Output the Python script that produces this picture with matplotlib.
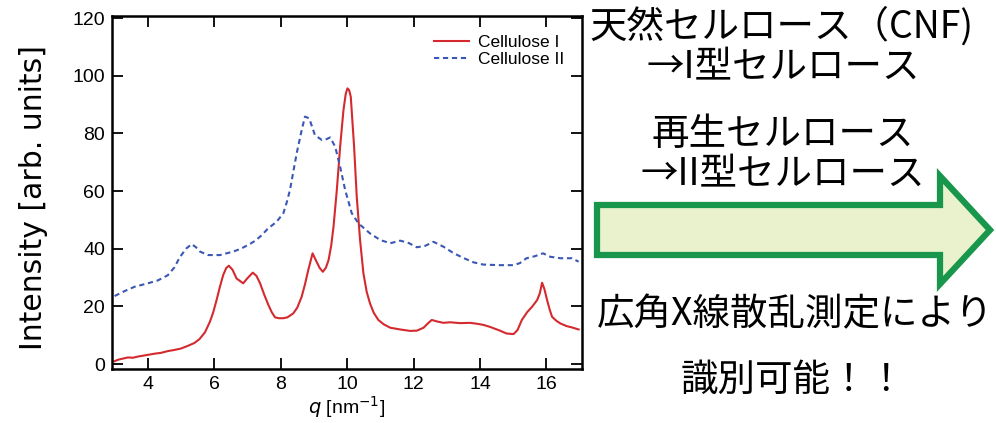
import matplotlib.pyplot as plt
from matplotlib.patches import Polygon

# Cellulose I (red, solid)
q1 = [3.0, 3.1, 3.25, 3.4, 3.55, 3.7, 3.85, 4.0, 4.2, 4.4, 4.6, 4.8, 5.0, 5.2, 5.4, 5.55, 5.72,
      5.87, 5.97, 6.07, 6.17, 6.27, 6.36, 6.44, 6.55, 6.67, 6.87, 7.0, 7.16, 7.27, 7.38, 7.5,
      7.63, 7.73, 7.83, 7.95, 8.08, 8.2, 8.28, 8.38, 8.5, 8.63, 8.73, 8.83, 8.96, 9.08, 9.17,
      9.27, 9.36, 9.44, 9.52, 9.59, 9.69, 9.79, 9.89, 9.96, 10.01, 10.06, 10.11, 10.21, 10.29,
      10.39, 10.49, 10.59, 10.69, 10.8, 10.94, 11.1, 11.3, 11.6, 11.9, 12.1, 12.3, 12.45, 12.55,
      12.7, 12.9, 13.1, 13.4, 13.7, 13.9, 14.1, 14.3, 14.6, 14.8, 15.01, 15.13, 15.26, 15.42,
      15.57, 15.72, 15.8, 15.87, 15.94, 16.02, 16.1, 16.17, 16.3, 16.42, 16.6, 16.77, 16.97]
i1 = [1.0, 1.5, 1.9, 2.3, 2.2, 2.6, 2.9, 3.2, 3.6, 3.9, 4.5, 4.9, 5.4, 6.3, 7.3, 8.6, 11.0,
      14.7, 18.0, 22.2, 26.8, 30.9, 33.3, 34.1, 32.7, 29.7, 28.0, 29.8, 31.7, 30.6, 28.0, 24.2,
      20.5, 18.0, 16.2, 15.9, 15.9, 16.2, 16.8, 17.6, 19.6, 23.3, 27.6, 32.6, 38.4, 35.5, 33.4,
      32.0, 33.4, 36.0, 41.0, 47.6, 60.4, 75.4, 88.1, 93.8, 95.6, 95.0, 92.7, 75.4, 58.0, 43.0,
      31.5, 25.0, 21.0, 17.8, 15.3, 13.8, 12.6, 12.0, 11.5, 11.6, 12.6, 14.3, 15.3, 14.8, 14.3,
      14.5, 14.2, 14.3, 14.0, 13.6, 12.9, 11.6, 10.6, 10.4, 11.8, 15.3, 18.0, 19.9, 22.2, 24.5,
      28.2, 26.0, 22.2, 18.8, 16.4, 15.0, 14.1, 13.2, 12.7, 12.0]

# Cellulose II (blue, dashed)
q2 = [3.0, 3.3, 3.6, 4.0, 4.3, 4.6, 4.8, 4.96, 5.15, 5.32, 5.45, 5.57, 5.82, 6.17, 6.57, 6.8,
      7.07, 7.25, 7.43, 7.6, 7.88, 8.08, 8.18, 8.28, 8.48, 8.62, 8.73, 8.86, 9.03, 9.24, 9.38,
      9.49, 9.64, 9.79, 9.94, 10.14, 10.34, 10.69, 11.0, 11.3, 11.6, 11.85, 12.1, 12.35, 12.6,
      12.9, 13.2, 13.5, 13.8, 14.1, 14.6, 15.0, 15.2, 15.4, 15.65, 15.9, 16.12, 16.42, 16.77,
      16.97]
i2 = [23.6, 25.3, 26.8, 28.0, 29.0, 30.8, 33.5, 37.0, 40.0, 41.6, 40.5, 39.0, 37.8, 37.8, 39.0,
      40.0, 41.6, 42.9, 44.7, 46.8, 49.4, 52.3, 56.0, 60.4, 73.0, 80.5, 85.8, 85.2, 79.4, 77.7,
      78.0, 78.6, 75.4, 68.4, 60.4, 52.3, 48.8, 45.3, 43.0, 41.9, 42.8, 42.0, 40.5, 41.0, 42.4,
      40.7, 38.5, 36.8, 35.3, 34.5, 34.3, 34.3, 35.0, 36.7, 37.4, 38.4, 37.2, 36.7, 36.7, 35.5]

xticks = [4, 6, 8, 10, 12, 14, 16]
yticks = [0, 20, 40, 60, 80, 100, 120]

fig = plt.figure(figsize=(9.96, 4.23), dpi=100)
ax = fig.add_axes([0.1124, 0.1277, 0.4719, 0.8345])
ax.plot(q1, i1, color="#d42a2f", lw=1.5, label="Cellulose I")
ax.plot(q2, i2, color="#3b57b5", lw=1.5, ls=(0, (2.5, 1.8)), label="Cellulose II")
ax.set_xlim(2.92, 17.07)
ax.set_ylim(-1.7, 120.7)
ax.set_xticks(xticks)
ax.set_yticks(yticks)
ax.tick_params(direction="in", top=True, right=True, length=8, width=1.3,
               labelsize=14, labelright=False, labeltop=False, pad=5)
for lbl in ax.get_xticklabels() + ax.get_yticklabels():
    lbl.set_family("Liberation Sans")
for s in ax.spines.values():
    s.set_linewidth(1.8)
ax.set_xlabel("$q$ [nm$^{-1}$]", fontsize=14, family="Liberation Sans", labelpad=1)
ax.set_ylabel("Intensity [arb. units]", fontsize=21.5, family="DejaVu Sans")
ax.yaxis.set_label_coords(-0.135, 0.487)
ax.legend(loc="upper right", frameon=False, prop={"family": "Liberation Sans", "size": 12.5},
          handlelength=2.0, handletextpad=0.5, labelspacing=0.1,
          bbox_to_anchor=(0.995, 0.99))

# right-hand annotation in pixel coordinates
ov = fig.add_axes([0, 0, 1, 1], zorder=-1)
ov.set_xlim(0, 996)
ov.set_ylim(423, 0)
ov.axis("off")

arrow = [(597, 205), (940, 205), (940, 176), (990, 230), (940, 284), (940, 255), (597, 255)]
ov.add_patch(Polygon(arrow, closed=True, facecolor="#e9f2cd", edgecolor="#17964c", lw=4.5,
                     joinstyle="miter"))

jp = ["Noto Sans CJK JP", "DejaVu Sans"]
ov.text(782, 27, "天然セルロース（CNF)", fontsize=27, family=jp, ha="center", va="center")
ov.text(783, 68, "→I型セルロース", fontsize=27, family=jp, ha="center", va="center")
ov.text(783, 134, "再生セルロース", fontsize=27, family=jp, ha="center", va="center")
ov.text(783, 175, "→II型セルロース", fontsize=27, family=jp, ha="center", va="center")
ov.text(795, 315, "広角X線散乱測定により", fontsize=27, family=jp, ha="center", va="center")
ov.text(793, 380, "識別可能！！", fontsize=27, family=jp, ha="center", va="center")

fig.savefig("out.png", dpi=100)
